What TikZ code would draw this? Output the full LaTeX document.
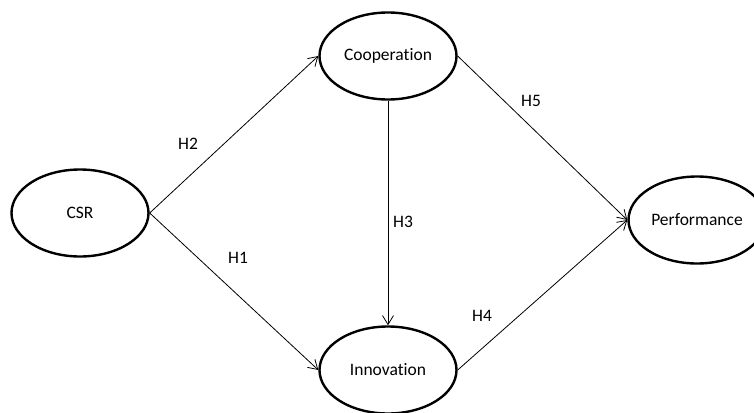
\documentclass[tikz,border=0pt]{standalone}
\usepackage{fontspec}
\setmainfont[Ligatures=NoCommon]{Carlito}
\usetikzlibrary{shapes.geometric}
\usetikzlibrary{arrows.meta}

\tikzset{
  construct/.style={draw,ellipse,line width=2.4pt,minimum width=137pt,minimum height=87pt,inner sep=0pt,font=\fontsize{17.5}{21}\selectfont},
  path/.style={line width=0.8pt,-{Straight Barb[length=9pt,width=11pt,line width=0.8pt]}},
  hyp/.style={font=\fontsize{17.5}{21}\selectfont}
}

\begin{document}
\begin{tikzpicture}[x=1pt,y=-1pt]
  % Boundary
  \useasboundingbox (0,0) rectangle (754,412);
  % Constructs
  \node[construct] (csr) at (80,213) {CSR};
  \node[construct] (coop) at (388,56) {Cooperation};
  \node[construct] (innov) at (388,370) {Innovation};
  \node[construct] (perf) at (697,220) {Performance};
  % Hypotheses
  \draw[path] (csr.east) -- (coop.west);
  \draw[path] (csr.east) -- (innov.west);
  \draw[path] (coop.south) -- (innov.north);
  \draw[path] (coop.east) -- (perf.west);
  \draw[path] (innov.east) -- (perf.west);
  % Labels
  \node[hyp] (h2) at (188,144) {H2};
  \node[hyp] (h1) at (238,258) {H1};
  \node[hyp] (h3) at (403,222) {H3};
  \node[hyp] (h5) at (531,101) {H5};
  \node[hyp] (h4) at (482,316) {H4};
\end{tikzpicture}
\end{document}
